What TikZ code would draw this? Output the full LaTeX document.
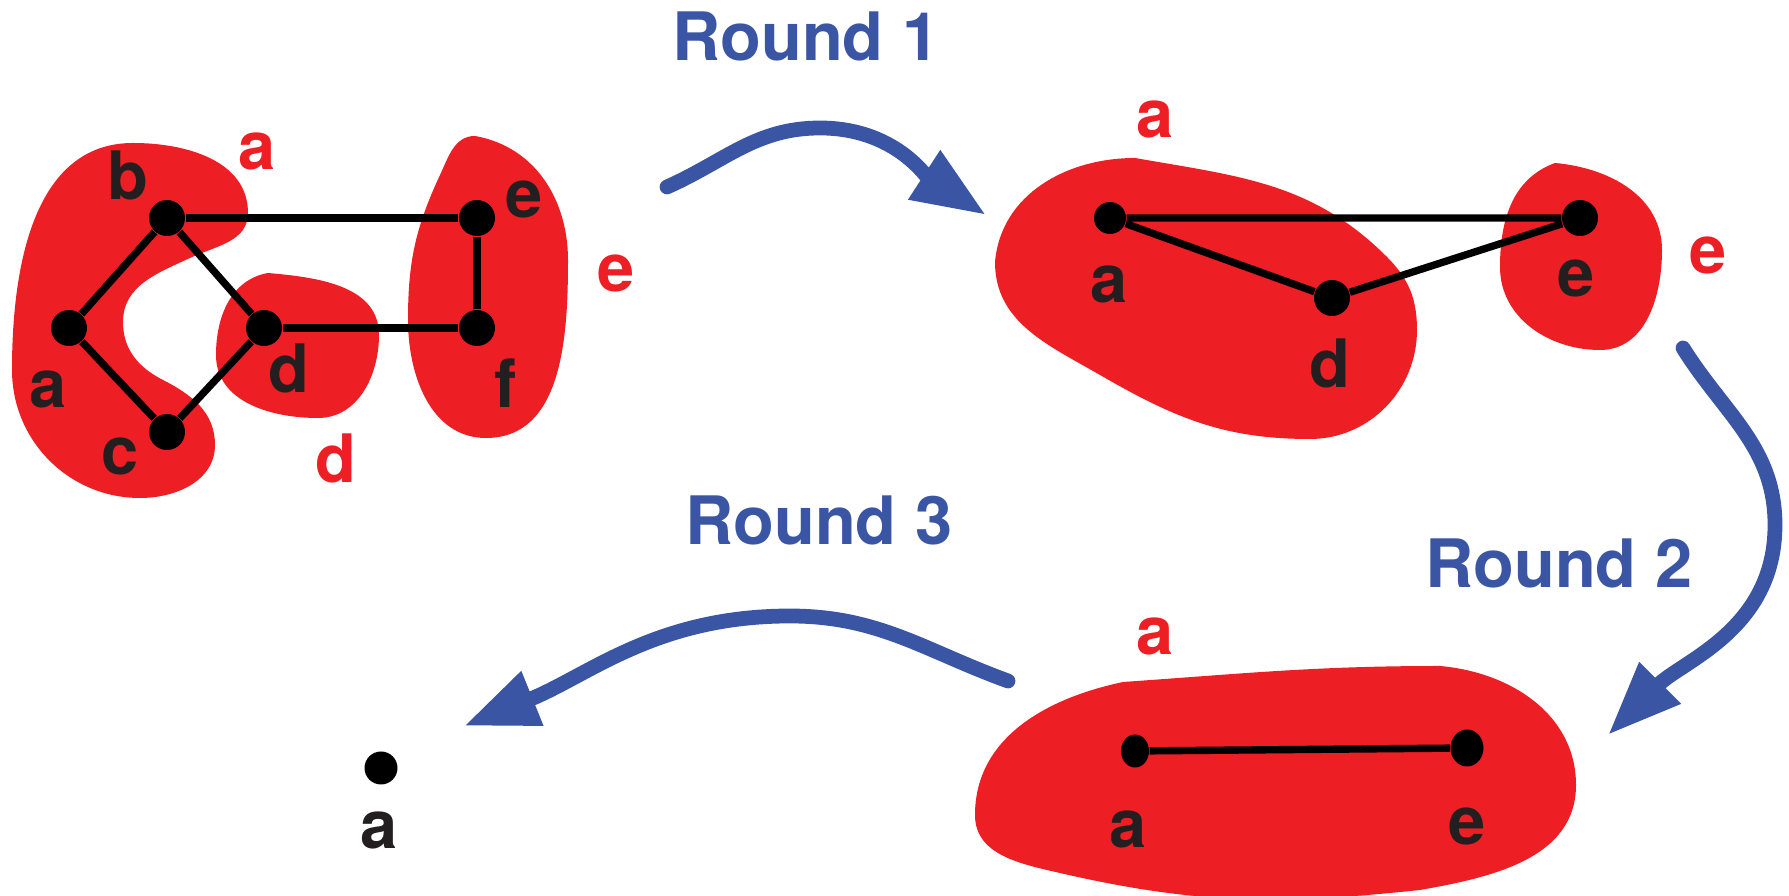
\documentclass[tikz,border=0pt]{standalone}
\usepackage{fontspec}
\setmainfont{TeX Gyre Heros}
\usetikzlibrary{arrows.meta, shapes.geometric}
\definecolor{blobred}{RGB}{237,31,36}
\definecolor{roundblue}{RGB}{58,85,164}
\definecolor{inkblack}{RGB}{35,31,32}
\tikzset{
  vtx/.style={circle, fill=black, inner sep=0pt, minimum size=3.6mm},
  edge/.style={line width=2.1pt, black},
  blob/.style={fill=blobred},
  lbl/.style={font=\fontsize{19}{19}\selectfont\bfseries, text=inkblack, inner sep=0pt, anchor=base},
  grp/.style={lbl, text=blobred},
  rnd/.style={lbl, text=roundblue},
  merge/.style={line width=4.2pt, roundblue, line cap=round, -{Triangle[length=21pt, width=15.6pt]}},
}

\begin{document}
\begin{tikzpicture}
\useasboundingbox (0,0) rectangle (17.89,-8.96);
% Start: six vertices in three clusters {a,b,c}, {d}, {e,f}
\fill[blob] (1.33,-1.43) to[out=0,in=90] (2.48,-2.13) to[out=-90,in=25] (1.90,-2.58) to[out=-155,in=90] (1.23,-3.22) to[out=-90,in=153] (1.63,-3.80) to[out=-27,in=90] (2.15,-4.45) to[out=-90,in=0] (1.40,-4.98) to[out=180,in=-90] (0.12,-3.70) to[out=90,in=180] (1.33,-1.43) -- cycle;
\fill[blob] (2.68,-2.73) to[out=-5,in=90] (3.79,-3.35) to[out=-90,in=0] (3.18,-4.18) to[out=180,in=-90] (2.16,-3.55) to[out=90,in=190] (2.68,-2.73) -- cycle;
\fill[blob] (4.75,-1.36) to[out=-10,in=90] (5.68,-2.60) to[out=-90,in=0] (4.86,-4.38) to[out=180,in=-90] (4.08,-3.20) to[out=90,in=-115] (4.40,-1.75) to[out=65,in=180] (4.75,-1.36) -- cycle;
\node[vtx] (la) at (0.69,-3.28) {};
\node[vtx] (lb) at (1.67,-2.18) {};
\node[vtx] (lc) at (1.67,-4.32) {};
\node[vtx] (ld) at (2.64,-3.28) {};
\node[vtx] (le) at (4.77,-2.18) {};
\node[vtx] (lf) at (4.77,-3.28) {};
\draw[edge] (la) -- (lb) -- (ld) -- (lc) -- (la);
\draw[edge] (lb) -- (le) -- (lf) -- (ld);
\node[lbl] (la-t) at (0.48,-4.08) {a};
\node[lbl] (lb-t) at (1.28,-2.00) {b};
\node[lbl] (lc-t) at (1.20,-4.75) {c};
\node[lbl] (ld-t) at (2.89,-3.93) {d};
\node[lbl] (le-t) at (5.24,-2.18) {e};
\node[lbl] (lf-t) at (5.06,-4.08) {f};
% cluster leaders
\node[grp] (lg-a) at (2.57,-1.70) {a};
\node[grp] (lg-d) at (3.36,-4.83) {d};
\node[grp] (lg-e) at (6.16,-2.92) {e};

% After round 1: a, d, e left, clusters {a,d} and {e}
\fill[blob] (11.35,-1.58) to[out=-10,in=135] (13.87,-2.57) to[out=-45,in=90] (14.17,-3.30) to[out=-90,in=0] (13.10,-4.39) to[out=180,in=-30] (11.00,-3.75) to[out=150,in=-90] (9.95,-2.62) to[out=85,in=180] (11.35,-1.58) -- cycle;
\fill[blob] (15.55,-1.63) to[out=-5,in=90] (16.62,-2.50) to[out=-90,in=0] (16.00,-3.50) to[out=180,in=-90] (15.00,-2.67) to[out=90,in=200] (15.55,-1.63) -- cycle;
\node[vtx, minimum size=3.2mm] (ra) at (11.10,-2.18) {};
\node[vtx] (rd) at (13.32,-2.98) {};
\node[vtx] (re) at (15.80,-2.18) {};
\draw[edge] (ra) -- (re) -- (rd) -- (ra);
\node[lbl] (ra-t) at (11.09,-3.03) {a};
\node[lbl] (rd-t) at (13.30,-3.88) {d};
\node[lbl] (re-t) at (15.76,-2.97) {e};
\node[grp] (rg-a) at (11.55,-1.38) {a};
\node[grp] (rg-e) at (17.08,-2.74) {e};

% After round 2: a and e in one cluster
\fill[blob] (11.23,-6.82) to[out=4,in=180] (14.40,-6.66) to[out=-5,in=90] (15.76,-7.85) to[out=-90,in=10] (14.20,-8.90) to[out=186,in=-13] (10.60,-8.73) to[out=167,in=-90] (9.75,-8.15) to[out=90,in=192] (11.23,-6.82) -- cycle;
\node[vtx, ellipse, minimum width=2.8mm, minimum height=3.3mm] (sa) at (11.35,-7.51) {};
\node[vtx, ellipse, minimum width=3.3mm, minimum height=3.7mm] (se) at (14.67,-7.48) {};
\draw[edge] (sa) -- (se);
\node[lbl] (sa-t) at (11.28,-8.48) {a};
\node[lbl] (se-t) at (14.67,-8.45) {e};
\node[grp] (sg-a) at (11.55,-6.55) {a};

% After round 3: a single vertex
\node[vtx, minimum size=3.3mm] (ta) at (3.81,-7.68) {};
\node[lbl] (ta-t) at (3.79,-8.49) {a};

% rounds
\node[rnd] (r1) at (8.06,-0.61) {Round 1};
\node[rnd] (r2) at (15.59,-5.88) {Round 2};
\node[rnd] (r3) at (8.19,-5.45) {Round 3};
\coordinate (r1-from) at (6.67,-1.87);
\coordinate (r1-top) at (8.20,-1.28);
\coordinate (r1-to) at (9.86,-2.15);
\coordinate (r2-from) at (16.83,-3.48);
\coordinate (r2-side) at (17.75,-5.25);
\coordinate (r2-to) at (16.08,-7.35);
\coordinate (r3-from) at (10.08,-6.81);
\coordinate (r3-top) at (7.90,-6.16);
\coordinate (r3-to) at (4.64,-7.26);
\draw[merge] (r1-from) to[out=24, in=180] (r1-top) to[out=0, in=147] (r1-to);
\draw[merge] (r2-from) to[out=-58, in=90] (r2-side) to[out=-90, in=45] (r2-to);
\draw[merge] (r3-from) to[out=160, in=0] (r3-top) to[out=180, in=22] (r3-to);
\end{tikzpicture}
\end{document}
